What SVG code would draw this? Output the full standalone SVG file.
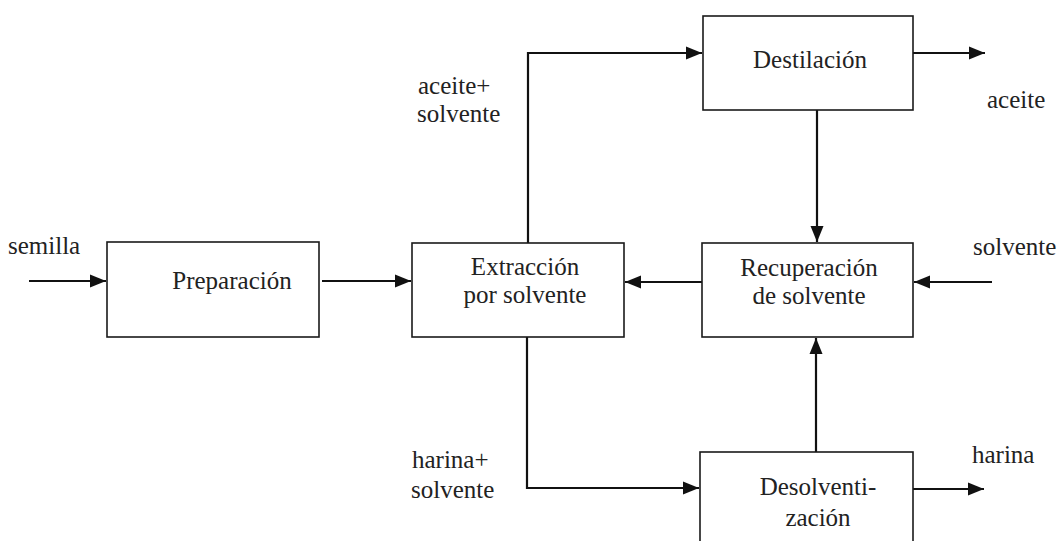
<svg xmlns="http://www.w3.org/2000/svg" width="1064" height="541" viewBox="0 0 1064 541">
<style>
.box{fill:#fff;stroke:#1a1a1a;stroke-width:1.6}
.ln{fill:none;stroke:#111;stroke-width:2.2}
text{font-family:'Liberation Serif','DejaVu Serif','Times New Roman',serif;font-size:25px;fill:#222}
.c{text-anchor:middle}
</style>
<defs>
<marker id="ah" markerUnits="userSpaceOnUse" markerWidth="17" markerHeight="14" refX="16" refY="7" orient="auto">
<path d="M0,0.5 L16,7 L0,13.5 z" fill="#111"/>
</marker>
</defs>
<rect width="1064" height="541" fill="#fff"/>
<g id="connectors">
<line class="ln" x1="29" y1="281" x2="106" y2="281" marker-end="url(#ah)"/>
<line class="ln" x1="322" y1="281" x2="411" y2="281" marker-end="url(#ah)"/>
<polyline class="ln" points="528,243 528,53 702,53" marker-end="url(#ah)"/>
<line class="ln" x1="913" y1="53" x2="985" y2="53" marker-end="url(#ah)"/>
<line class="ln" x1="817" y1="110" x2="817" y2="242" marker-end="url(#ah)"/>
<line class="ln" x1="702" y1="282" x2="625" y2="282" marker-end="url(#ah)"/>
<line class="ln" x1="992" y1="282" x2="914" y2="282" marker-end="url(#ah)"/>
<polyline class="ln" points="527,337 527,488 699,488" marker-end="url(#ah)"/>
<line class="ln" x1="816" y1="452" x2="816" y2="338" marker-end="url(#ah)"/>
<line class="ln" x1="913" y1="489" x2="984" y2="489" marker-end="url(#ah)"/>
</g>
<g id="preparacion">
<rect class="box" x="107" y="242" width="212" height="95"/>
<text x="232" y="289" class="c" font-family="Liberation Serif, serif">Preparación</text>
</g>
<g id="extraccion">
<rect class="box" x="412" y="243" width="212" height="94"/>
<text x="525" y="275" class="c">Extracción</text>
<text x="525" y="303" class="c">por solvente</text>
</g>
<g id="destilacion">
<rect class="box" x="703" y="16" width="210" height="94"/>
<text x="810" y="68" class="c">Destilación</text>
</g>
<g id="recuperacion">
<rect class="box" x="702" y="243" width="211" height="94"/>
<text x="809" y="276" class="c">Recuperación</text>
<text x="809" y="304" class="c">de solvente</text>
</g>
<g id="desolventizacion">
<rect class="box" x="700" y="452" width="213" height="95"/>
<text x="818" y="495" class="c">Desolventi-</text>
<text x="818" y="526" class="c">zación</text>
</g>
<g id="labels">
<text x="8" y="254">semilla</text>
<text x="418" y="94">aceite+</text>
<text x="417" y="122">solvente</text>
<text x="987" y="108">aceite</text>
<text x="973" y="255">solvente</text>
<text x="412" y="468">harina+</text>
<text x="411" y="498">solvente</text>
<text x="972" y="463">harina</text>
</g>
</svg>
